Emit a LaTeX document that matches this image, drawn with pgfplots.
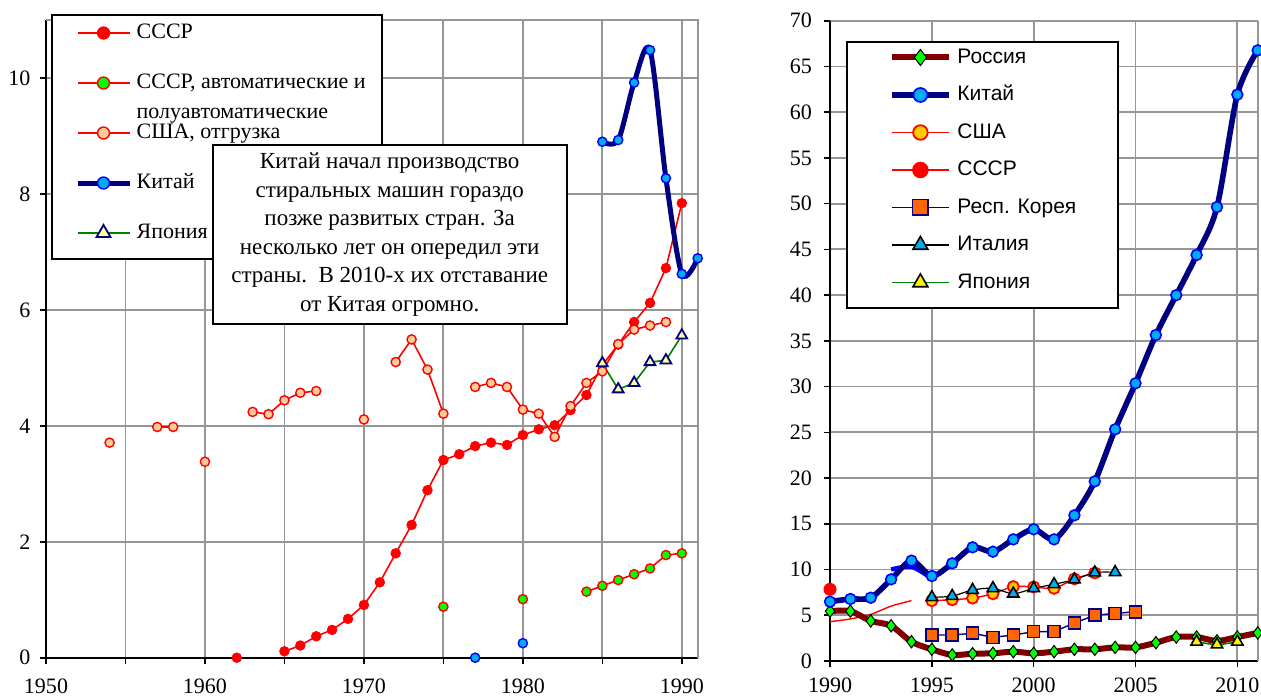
\documentclass[border=0pt]{standalone}
\usepackage{pgfplots}
\pgfplotsset{compat=1.18}
\usepackage{fontspec}
\setmainfont{Liberation Serif}
\newfontfamily\arialf{Liberation Sans}

\definecolor{salmon}{RGB}{255,204,153}
\definecolor{navyc}{RGB}{0,0,128}
\definecolor{lgreen}{RGB}{0,255,0}
\definecolor{lyell}{RGB}{255,255,153}
\definecolor{dgreen}{RGB}{0,128,0}
\definecolor{maroonc}{RGB}{128,0,0}
\definecolor{goldc}{RGB}{255,204,0}
\definecolor{orangec}{RGB}{255,102,0}
\definecolor{gridc}{RGB}{150,150,150}

\pgfplotsset{
  common/.style={
    scale only axis, anchor=south west,
    axis lines=left, axis line style={-, line width=1.2pt, black},
    tick align=outside, major tick length=3pt,
    tick style={black, line width=0.8pt},
    grid=major, grid style={gridc, line width=0.9pt},
    clip=false, unbounded coords=jump,
    tick label style={font=\fontsize{11}{13}\selectfont},
    /pgf/number format/assume math mode=true,
    /pgf/number format/1000 sep={},
  },
}

\begin{document}
\begin{tikzpicture}
\useasboundingbox (0,0) rectangle (630.5pt,348.5pt);

% left panel, 1950-1991
\begin{axis}[common,
  at={(23pt,19.65pt)}, width=325.85pt, height=318.85pt,
  xmin=1950, xmax=1991, ymin=0, ymax=11,
  xtick={1950,1955,...,1990}, xticklabels={1950,,1960,,1970,,1980,,1990},
  ytick={0,2,...,10},
  xticklabel style={yshift=-4pt}, yticklabel style={xshift=-1.3pt},
  legend style={at={(axis description cs:0.0077,1.0094)}, anchor=north west,
    draw=black, line width=1pt, fill=white,
    inner xsep=8pt, inner ysep=3.5pt, row sep=9.85pt, column sep=2.35pt,
    font=\fontsize{11}{13}\selectfont, cells={anchor=base west},
    nodes={inner sep=0pt, text height=8pt, text depth=7.15pt}},
  legend image code/.code={\path (-3.5pt,0pt);
    \draw[mark repeat=2,mark phase=2,#1] plot coordinates {(0pt,2.5pt) (13pt,2.5pt) (26pt,2.5pt)};},
  legend image post style={/tikz/every mark/.append style={scale=1.3}},
]
\draw[gridc, line width=0.9pt] (rel axis cs:0,1) -- (rel axis cs:1,1) -- (rel axis cs:1,0);

\addplot[red, line width=0.8pt, mark=*,
  mark options={mark size=2.4pt, fill=red, draw=red, line width=0.4pt}] coordinates {
  (1962,0) (1963,nan) (1965,0.11) (1966,0.21) (1967,0.37) (1968,0.48) (1969,0.67)
  (1970,0.91) (1971,1.30) (1972,1.80) (1973,2.29) (1974,2.89) (1975,3.41)
  (1976,3.51) (1977,3.65) (1978,3.71) (1979,3.67) (1980,3.84) (1981,3.94)
  (1982,4.01) (1983,4.27) (1984,4.53) (1985,5.05) (1986,5.40) (1987,5.79)
  (1988,6.12) (1989,6.72) (1990,7.84)};
\addlegendentry{СССР}

\addplot[red, line width=0.8pt, mark=*,
  mark options={mark size=2.3pt, fill=lgreen, draw=red, line width=0.7pt}] coordinates {
  (1975,0.88) (1976,nan) (1980,1.01) (1981,nan) (1984,1.14) (1985,1.24)
  (1986,1.34) (1987,1.44) (1988,1.54) (1989,1.77) (1990,1.80)};
\addlegendentry{\makebox[0pt][l]{\raisebox{-15pt}[0pt][0pt]{полуавтоматические}}СССР, автоматические и}

\addplot[red, line width=0.8pt, mark=*,
  mark options={mark size=2.3pt, fill=salmon, draw=red, line width=0.7pt}] coordinates {
  (1954,3.71) (1955,nan) (1957,3.98) (1958,3.98) (1959,nan) (1960,3.38) (1961,nan)
  (1963,4.24) (1964,4.20) (1965,4.44) (1966,4.57) (1967,4.60) (1968,nan)
  (1970,4.11) (1971,nan) (1972,5.10) (1973,5.49) (1974,4.97) (1975,4.21)
  (1976,nan) (1977,4.67) (1978,4.74) (1979,4.67) (1980,4.28) (1981,4.21)
  (1982,3.81) (1983,4.34) (1984,4.74) (1985,4.94) (1986,5.41) (1987,5.66)
  (1988,5.73) (1989,5.79)};
\addlegendentry{США, отгрузка}

\addplot[only marks, mark=*, forget plot,
  mark options={mark size=2.3pt, fill=cyan, draw=blue, line width=0.7pt}] coordinates {
  (1977,0.0) (1980,0.25)};
\addplot[navyc, line width=2.5pt, smooth, mark=*,
  mark options={mark size=2.3pt, fill=cyan, draw=blue, line width=0.7pt}] coordinates {
  (1985,8.90) (1986,8.93) (1987,9.92) (1988,10.48) (1989,8.27) (1990,6.62) (1991,6.89)};
\addlegendentry{Китай}

\addplot[dgreen, line width=0.8pt, mark=triangle*,
  mark options={mark size=3.1pt, fill=lyell, draw=navyc, line width=0.9pt}] coordinates {
  (1985,5.08) (1986,4.63) (1987,4.74) (1988,5.10) (1989,5.13) (1990,5.56)};
\addlegendentry{Япония}
\end{axis}

% right panel, 1990-2011
\begin{axis}[common,
  at={(415pt,18pt)}, width=213.85pt, height=320.15pt,
  xmin=1990, xmax=2011, ymin=0, ymax=70,
  xtick={1990,1995,...,2010}, ytick={0,5,...,70},
  xticklabel style={yshift=-2pt}, yticklabel style={xshift=-2.5pt},
  legend style={at={(axis description cs:0.0374,0.9688)}, anchor=north west,
    draw=black, line width=1pt, fill=white,
    inner xsep=21pt, inner ysep=2.7pt, row sep=3.65pt, column sep=2.85pt,
    font=\arialf\fontsize{10.5}{12}\selectfont, cells={anchor=base west},
    nodes={inner sep=0pt, text height=8pt, text depth=7.1pt}},
  legend image code/.code={
    \draw[mark repeat=2,mark phase=2,#1] plot coordinates {(0pt,2.8pt) (14.2pt,2.8pt) (28.35pt,2.8pt)};},
  legend image post style={/tikz/every mark/.append style={scale=1.3}},
]
\draw[gridc, line width=0.9pt] (rel axis cs:1,1) -- (rel axis cs:1,0);

\addplot[blue, line width=2.2pt, smooth, forget plot] coordinates {
  (1993,10.0) (1994,10.3) (1995,9.0)};
\addplot[red, line width=0.7pt, smooth, forget plot] coordinates {
  (1990,4.3) (1991,4.6) (1992,5.1) (1993,6.0) (1994,6.6)};

\addplot[maroonc, line width=3pt, smooth, mark=diamond*,
  mark options={mark size=3.1pt, fill=lgreen, draw=black, line width=0.5pt}] coordinates {
  (1990,5.45) (1991,5.45) (1992,4.38) (1993,3.85) (1994,2.11) (1995,1.28)
  (1996,0.66) (1997,0.80) (1998,0.84) (1999,1.02) (2000,0.84) (2001,1.02)
  (2002,1.28) (2003,1.28) (2004,1.49) (2005,1.49) (2006,2.00) (2007,2.62)
  (2008,2.62) (2009,2.20) (2010,2.62) (2011,3.07)};
\addlegendentry{Россия}

\addplot[navyc, line width=2.8pt, smooth, mark=*,
  mark options={mark size=2.7pt, fill=cyan, draw=blue, line width=0.8pt}] coordinates {
  (1990,6.49) (1991,6.78) (1992,6.92) (1993,8.93) (1994,10.97) (1995,9.29)
  (1996,10.68) (1997,12.43) (1998,11.95) (1999,13.30) (2000,14.40) (2001,13.30)
  (2002,15.93) (2003,19.64) (2004,25.33) (2005,30.36) (2006,35.64) (2007,40.00)
  (2008,44.39) (2009,49.63) (2010,61.92) (2011,66.76)};
\addlegendentry{Китай}

\addplot[red, line width=0.7pt, smooth, mark=*,
  mark options={mark size=2.8pt, fill=goldc, draw=red, line width=0.9pt}] coordinates {
  (1995,6.60) (1996,6.70) (1997,6.88) (1998,7.35) (1999,8.13) (2000,8.10)
  (2001,7.95) (2002,8.98) (2003,9.63)};
\addlegendentry{США}

\addplot[red, line width=0.7pt, mark=*,
  mark options={mark size=2.9pt, fill=red, draw=red}] coordinates {(1990,7.83)};
\addlegendentry{СССР}

\addplot[navyc, line width=0.7pt, mark=square*,
  mark options={mark size=3pt, fill=orangec, draw=navyc, line width=0.8pt}] coordinates {
  (1995,2.84) (1996,2.84) (1997,3.03) (1998,2.59) (1999,2.84) (2000,3.21)
  (2001,3.21) (2002,4.15) (2003,5.00) (2004,5.20) (2005,5.39)};
\addlegendentry{Респ. Корея}

\addplot[black, line width=0.6pt, smooth, mark=triangle*,
  mark options={mark size=3.3pt, fill=cyan, draw=black, line width=0.8pt}] coordinates {
  (1995,6.96) (1996,7.10) (1997,7.76) (1998,7.95) (1999,7.36) (2000,7.95)
  (2001,8.39) (2002,8.90) (2003,9.66) (2004,9.70)};
\addlegendentry{Италия}

\addplot[dgreen, line width=0.8pt, smooth, mark=triangle*,
  mark options={mark size=3.3pt, fill=yellow, draw=black, line width=0.8pt}] coordinates {
  (2008,2.10) (2009,1.80) (2010,2.10)};
\addlegendentry{Япония}
\end{axis}

\node[draw=black, line width=1pt, fill=white, align=center, inner sep=0pt,
  minimum width=177pt, minimum height=89.5pt,
  font=\fontsize{11.5}{14.3}\selectfont] at (194.85pt,231.25pt)
  {Китай начал производство\\стиральных машин гораздо\\позже развитых стран. За\\несколько лет он опередил эти\\страны.\ \ В 2010-х их отставание\\от Китая огромно.};
\end{tikzpicture}
\end{document}
